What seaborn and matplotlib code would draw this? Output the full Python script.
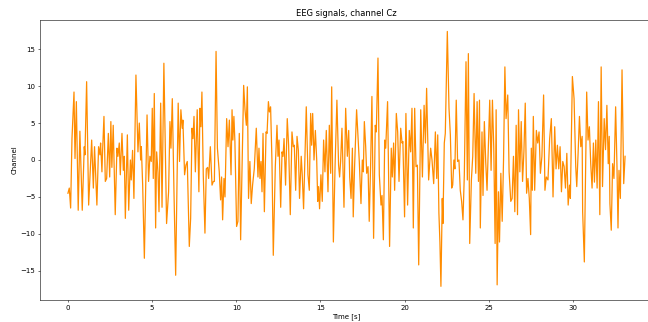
import matplotlib
matplotlib.use("Agg")
import matplotlib.pyplot as plt
import seaborn as sns
import pandas as pd

# EEG channel Cz (turning points)
time_s = [
    0.00, 0.08, 0.16, 0.24, 0.36, 0.42, 0.50, 0.61, 0.71, 0.85, 0.97, 1.01, 1.11, 1.23, 1.31, 1.41,
    1.51, 1.58, 1.72, 1.82, 1.90, 1.94, 2.02, 2.06, 2.14, 2.22, 2.30, 2.40, 2.48, 2.55, 2.61, 2.69,
    2.81, 2.91, 2.97, 3.05, 3.11, 3.21, 3.29, 3.35, 3.41, 3.53, 3.61, 3.71, 3.76, 3.84, 3.92, 4.04,
    4.16, 4.24, 4.32, 4.36, 4.44, 4.54, 4.70, 4.79, 4.87, 4.95, 5.01, 5.07, 5.13, 5.21, 5.27, 5.35,
    5.41, 5.51, 5.59, 5.70,
    5.86, 5.98, 6.06, 6.12, 6.20, 6.30, 6.40, 6.55, 6.63, 6.71, 6.79, 6.83, 6.93, 7.01, 7.09, 7.21,
    7.29, 7.37, 7.43, 7.49, 7.57, 7.68, 7.78, 7.84, 7.90, 7.96, 8.04, 8.14, 8.22, 8.30, 8.36, 8.46,
    8.56, 8.64, 8.70, 8.80, 8.88,
    8.99, 9.07, 9.13, 9.19, 9.27, 9.33, 9.43, 9.51, 9.59, 9.69, 9.75, 9.80, 9.86, 9.92, 10.02, 10.10,
    10.18, 10.26, 10.44, 10.52, 10.60, 10.66, 10.73, 10.81, 10.89, 10.97, 11.07, 11.19, 11.29, 11.35,
    11.41, 11.47, 11.53, 11.59, 11.67, 11.77, 11.83, 11.91, 11.97, 12.04,
    12.12, 12.20, 12.32, 12.42, 12.48, 12.54, 12.64, 12.72, 12.78, 12.84, 12.93, 13.03, 13.11, 13.21,
    13.31, 13.39, 13.45, 13.53, 13.61, 13.69, 13.76, 13.86, 13.92, 14.00, 14.16, 14.26, 14.34, 14.42,
    14.48, 14.54, 14.62, 14.70, 14.78, 14.84, 14.89, 14.95, 15.03, 15.11,
    15.19, 15.27, 15.35, 15.45, 15.53, 15.61, 15.67, 15.77, 15.87, 15.98, 16.08, 16.14, 16.20, 16.28,
    16.40, 16.50, 16.60, 16.68, 16.74, 16.82, 16.90, 16.95, 17.03, 17.15, 17.23, 17.31, 17.41, 17.49,
    17.55, 17.61, 17.69, 17.75, 17.83, 17.90, 17.98, 18.06, 18.16,
    18.26, 18.32, 18.42, 18.50, 18.60, 18.66, 18.74, 18.82, 18.88, 18.99, 19.11, 19.21, 19.27, 19.35,
    19.41, 19.51, 19.59, 19.67, 19.77, 19.85, 19.90, 20.00, 20.08, 20.18, 20.28, 20.36, 20.44, 20.52,
    20.60, 20.68, 20.76, 20.84, 20.96, 21.06, 21.16, 21.24, 21.31,
    21.43, 21.55, 21.63, 21.73, 21.83, 21.91, 21.97, 22.04, 22.10, 22.16, 22.24, 22.28, 22.36, 22.42,
    22.54, 22.64, 22.72, 22.80, 22.86, 22.93, 22.99, 23.07, 23.15, 23.23, 23.31, 23.39, 23.47, 23.55,
    23.65, 23.73, 23.79, 23.87, 23.97, 24.05, 24.13, 24.23, 24.31, 24.39,
    24.45, 24.50, 24.60, 24.66, 24.74, 24.82, 24.90, 24.98, 25.06, 25.14, 25.22, 25.30, 25.38, 25.44,
    25.50, 25.58, 25.64, 25.72, 25.80, 25.88, 25.96, 26.03, 26.13, 26.21, 26.31, 26.39, 26.47, 26.55,
    26.63, 26.71, 26.77, 26.85, 26.93, 27.01, 27.09, 27.17, 27.25, 27.33, 27.41, 27.49,
    27.53, 27.59, 27.65, 27.73, 27.83, 27.91, 27.99, 28.07, 28.16, 28.26, 28.34, 28.42, 28.52, 28.62,
    28.72, 28.82, 28.92, 29.00, 29.08, 29.16, 29.24, 29.32, 29.40, 29.48, 29.56, 29.64, 29.72, 29.80,
    29.85, 29.97, 30.07, 30.17, 30.23, 30.31, 30.39, 30.47, 30.55,
    30.58, 30.68, 30.82, 30.90, 30.98, 31.06, 31.14, 31.22, 31.28, 31.36, 31.44, 31.52, 31.60, 31.68,
    31.76, 31.86, 31.94, 32.02, 32.10, 32.16, 32.20, 32.28, 32.36, 32.44, 32.54, 32.62, 32.68, 32.74,
    32.82, 32.92, 33.02, 33.10,
]
cz_uv = [
    -4.5, -3.8, -6.5, 2.9, 9.2, 0.2, 7.9, -6.8, 3.9, -6.8, 1.8, 0.7, 10.6, -6.1, -2.3, 2.7,
    -3.8, 1.8, -6.1, 1.8, 0.7, 2.3, -1.6, 1.3, 5.9, -2.9, -2.5, 3.6, -2.3, 5.2, -1.0, 4.7,
    -7.4, 1.6, 0.5, 2.3, -2.0, 3.6, -1.4, 0.5, -7.9, 3.4, -6.8, 0.0, -2.7, 1.3, -5.2, 11.5,
    1.1, 5.0, 0.0, 1.8, -3.4, -13.3, 6.1, -2.9, 0.5, -0.2, 7.0, -2.5, 9.0, -9.2, 1.1, -1.7,
    -7.0, 7.7, -6.4, 13.1,
    -8.6, -4.3, 5.2, 1.6, 8.3, -4.3, -15.6, 7.7, -0.2, 6.8, 4.3, 5.4, -2.0, -0.7, -0.2, -11.7,
    -7.9, 4.3, 2.9, 5.9, -1.6, 6.8, -4.3, 7.0, 4.5, 9.2, -2.0, -9.9, -1.2, -1.0, -2.5, 1.8,
    -3.4, -2.9, -2.9, 14.7, 1.6,
    -1.6, -5.4, -2.3, -8.1, -2.5, -5.0, 5.6, 1.8, 5.4, -2.0, 6.8, 2.7, 5.9, 2.5, -9.0, -8.3,
    3.6, -10.8, 10.1, 6.8, 4.7, 9.9, -5.2, -0.2, -5.9, -3.4, -1.2, 4.3, -2.3, 1.6,
    -2.5, -0.2, -4.3, 3.6, -7.0, 3.8, 3.6, 7.9, 6.5, 7.2,
    0.0, -12.9, -0.9, 4.7, 0.5, 2.7, -6.4, 1.1, 0.5, 2.9, -3.4, 5.6, 2.0, -7.4,
    3.8, 1.8, 2.0, -4.1, 3.2, 1.3, -5.2, 0.5, -2.0, -6.6, 7.2, -2.0, -4.1, 6.3,
    2.0, 6.3, 0.0, 4.0, 0.0, -5.6, -3.6, -6.6, -2.0, -5.6,
    2.7, -1.6, 4.0, -4.3, 4.7, -1.8, 9.9, -11.1, -0.9, 8.1, -0.7, -2.3, -0.2, 4.3,
    -6.4, 7.0, 0.5, 4.0, -2.3, -5.2, 1.6, -7.7, -0.9, 6.8, 3.4, -0.2, -5.9, 0.0,
    -1.6, 5.2, 1.8, -1.8, -0.9, -8.3, -1.0, 8.6, -10.6,
    4.7, 3.8, 13.8, -2.0, -6.1, -4.8, -10.8, 2.7, 1.6, 7.9, -11.7, 1.6, -2.3, 2.3,
    -4.1, 6.3, 3.8, -2.9, 4.3, 2.3, 2.5, -7.7, 6.3, -6.1, 4.0, 1.1, 7.0, -9.2,
    7.0, -0.9, -0.7, -14.2, 6.8, -2.3, 7.4, 2.3, 9.7,
    -2.7, 1.6, 0.0, -3.2, 3.8, -2.5, 3.4, -7.2, -11.1, -17.1, -5.2, -8.6, 2.3, 3.6,
    17.4, 7.0, 3.4, -3.8, -3.4, 0.0, -1.2, 8.1, -0.2, 0.0, -4.1, -5.6, -8.1, -2.0,
    13.3, -2.7, 14.4, -11.3, -2.7, 0.5, 9.0, -1.8, 7.9, -2.9,
    8.1, -9.2, 3.8, -4.8, 5.2, -0.2, -4.1, 1.8, 8.1, -1.4, 8.1, 1.6, -11.3, 6.8,
    -16.9, -4.3, -11.1, -1.8, -8.3, 0.0, 12.6, 5.6, 8.8, -1.6, -5.6, -5.2, 0.5, -7.0,
    4.7, -7.4, 6.8, -1.6, 5.2, -2.9, 1.1, 7.7, -4.5, -2.5, -5.2, -10.1,
    1.6, -4.1, 5.9, -4.1, 4.0, 2.3, 3.8, -1.8, 0.5, 8.8, -4.1, -2.3, -2.7, 2.9,
    5.6, -5.0, 4.5, -1.2, 2.0, -1.2, 1.8, -4.3, -0.2, -0.9, -3.8, 0.9, -6.1, -3.4,
    -5.2, 11.3, 8.3, -0.9, -3.6, 0.9, 5.9, 1.8, 3.2,
    -7.0, -13.8, 9.2, 2.7, 4.5, -0.5, -3.8, 2.3, -3.0, 2.7, -3.8, 7.9, -7.4, 12.6,
    -3.6, 5.6, 1.4, 7.4, -0.5, 3.2, -5.9, -9.5, -0.5, -2.5, 7.2, -0.9, -9.2, -1.4,
    -5.2, 12.2, -3.2, 0.5,
]

df = pd.DataFrame({"Time [s]": time_s, "Channel": cz_uv})

fig = plt.figure(figsize=(12.96, 6.44), dpi=50)
ax = fig.add_axes([40 / 648, 22 / 322, 613 / 648, 280 / 322])

sns.lineplot(data=df, x="Time [s]", y="Channel", color="darkorange", linewidth=1.8, ax=ax)

ax.set_xlim(-1.66, 34.76)
ax.set_ylim(-18.95, 18.95)
ax.set_title("EEG signals, channel Cz")

fig.savefig("out.png", dpi=50)
